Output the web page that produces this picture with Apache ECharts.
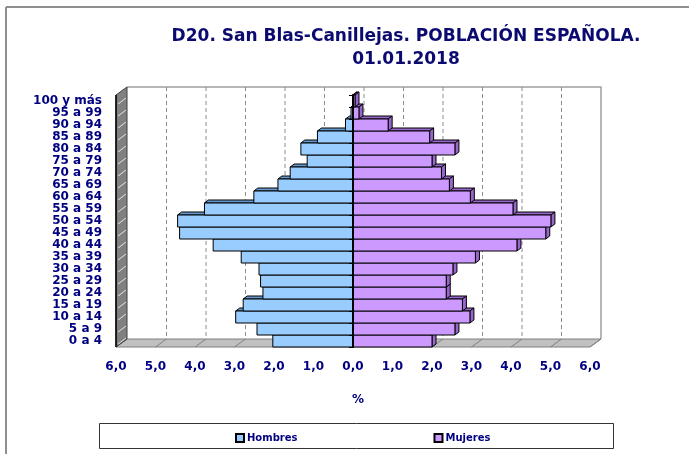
<!DOCTYPE html>
<html>
<head>
<meta charset="utf-8">
<script src="https://cdn.jsdelivr.net/npm/echarts@6/dist/echarts.min.js"></script>
<style>
  html, body { margin: 0; padding: 0; background: #fff; }
  #chart { width: 689px; height: 454px; }
</style>
</head>
<body>
<div id="chart"></div>
<script>
var categories = ['0 a 4', '5 a 9', '10 a 14', '15 a 19', '20 a 24', '25 a 29', '30 a 34',
    '35 a 39', '40 a 44', '45 a 49', '50 a 54', '55 a 59', '60 a 64', '65 a 69', '70 a 74',
    '75 a 79', '80 a 84', '85 a 89', '90 a 94', '95 a 99', '100 y más'];
var hombres = [2.03, 2.43, 2.97, 2.78, 2.28, 2.34, 2.38, 2.83, 3.54, 4.39, 4.44,
    3.76, 2.51, 1.90, 1.59, 1.16, 1.32, 0.90, 0.19, 0.05, 0.01];
var mujeres = [2.00, 2.58, 2.96, 2.77, 2.36, 2.36, 2.53, 3.10, 4.15, 4.88, 5.01,
    4.05, 2.97, 2.44, 2.24, 2.00, 2.58, 1.94, 0.89, 0.15, 0.05];
var xTicks = [-6, -5, -4, -3, -2, -1, 0, 1, 2, 3, 4, 5, 6];

var navy = '#000080';
var font = 'DejaVu Sans';
var wallDx = 11, wallDy = 8;   // depth of the 3d box
var barDx = 4, barDy = 3;      // depth of each bar

var chart = echarts.init(document.getElementById('chart'));

// walls, floor and back gridlines
function renderWalls(params, api) {
    var cs = params.coordSys;
    var x0 = cs.x, x1 = cs.x + cs.width, yt = cs.y, yb = cs.y + cs.height;
    var kids = [];
    // back wall frame
    kids.push({ type: 'polyline', shape: { points: [[x0 + wallDx, yt - wallDy], [x1 + wallDx, yt - wallDy], [x1 + wallDx, yb - wallDy]] },
        style: { stroke: '#a0a0a0', fill: null, lineWidth: 1.5 } });
    xTicks.forEach(function (t) {
        if (t === xTicks[0] || t === xTicks[xTicks.length - 1]) return;
        var x = api.coord([t, 0])[0] + wallDx;
        kids.push({ type: 'line', shape: { x1: x, y1: yt - wallDy, x2: x, y2: yb - wallDy },
            style: { stroke: '#8c8c8c', lineWidth: 1, lineDash: [4, 3] } });
    });
    // floor
    kids.push({ type: 'polygon', shape: { points: [[x0, yb], [x1, yb], [x1 + wallDx, yb - wallDy], [x0 + wallDx, yb - wallDy]] },
        style: { fill: '#c0c0c0', stroke: '#808080', lineWidth: 1 } });
    xTicks.forEach(function (t) {
        var x = api.coord([t, 0])[0];
        kids.push({ type: 'line', shape: { x1: x, y1: yb, x2: x + wallDx, y2: yb - wallDy },
            style: { stroke: '#808080', lineWidth: 1 } });
    });
    // left wall
    kids.push({ type: 'polygon', shape: { points: [[x0, yt], [x0 + wallDx, yt - wallDy], [x0 + wallDx, yb - wallDy], [x0, yb]] },
        style: { fill: '#808080', stroke: '#404040', lineWidth: 1 } });
    var band = api.size([0, 1])[1];
    for (var i = 0; i < categories.length; i++) {
        var yc = api.coord([0, i])[1] + band / 2 - 3;
        kids.push({ type: 'line', shape: { x1: x0 + 2, y1: yc, x2: x0 + wallDx - 1, y2: yc - wallDy + 2 },
            style: { stroke: '#e6e6e6', lineWidth: 1 } });
    }
    kids.push({ type: 'line', shape: { x1: x0, y1: yt, x2: x0, y2: yb }, style: { stroke: '#000', lineWidth: 1.5 } });
    return { type: 'group', children: kids };
}

function makeBarRenderer(front, dark) {
    return function (params, api) {
        var val = api.value(0), cat = api.value(1);
        var p0 = api.coord([0, cat]);
        var p1 = api.coord([val, cat]);
        var h = api.size([0, 1])[1];
        var yTop = p0[1] - h / 2, yBot = p0[1] + h / 2;
        var xa = Math.min(p0[0], p1[0]), xb = Math.max(p0[0], p1[0]);
        var kids = [];
        kids.push({ type: 'polygon', shape: { points: [[xa, yTop], [xb, yTop], [xb + barDx, yTop - barDy], [xa + barDx, yTop - barDy]] },
            style: { fill: dark, stroke: '#000', lineWidth: 1 } });
        if (val > 0) {
            kids.push({ type: 'polygon', shape: { points: [[xb, yTop], [xb + barDx, yTop - barDy], [xb + barDx, yBot - barDy], [xb, yBot]] },
                style: { fill: dark, stroke: '#000', lineWidth: 1 } });
        }
        kids.push({ type: 'rect', shape: { x: xa, y: yTop, width: xb - xa, height: yBot - yTop },
            style: { fill: front, stroke: '#000', lineWidth: 1 } });
        return { type: 'group', children: kids };
    };
}

var option = {
    backgroundColor: '#fff',
    animation: false,
    title: {
        text: 'D20. San Blas-Canillejas. POBLACIÓN ESPAÑOLA.\n01.01.2018',
        left: 401,
        top: 20,
        textAlign: 'center',
        textStyle: { fontFamily: font, fontWeight: 'bold', fontSize: 17, color: '#0a0a70', lineHeight: 23 }
    },
    graphic: [
        { type: 'line', shape: { x1: 6, y1: 7, x2: 689, y2: 7 }, style: { stroke: '#8f8f8f', lineWidth: 2 } },
        { type: 'line', shape: { x1: 6, y1: 7, x2: 6, y2: 454 }, style: { stroke: '#8f8f8f', lineWidth: 2 } },
        { type: 'rect', left: 99, top: 423, shape: { width: 514, height: 25 }, style: { fill: '#fff', stroke: '#333', lineWidth: 1 }, z: -1 }
    ],
    legend: {
        data: ['Hombres', 'Mujeres'],
        left: 230,
        top: 428,
        itemGap: 136,
        itemWidth: 8,
        itemHeight: 8,
        icon: 'rect',
        textStyle: { fontFamily: font, fontWeight: 'bold', fontSize: 10, color: navy, padding: [0, 0, 0, -2] }
    },
    grid: { left: 116, right: 99, top: 95, bottom: 107, containLabel: false },
    xAxis: {
        type: 'value',
        min: -6,
        max: 6,
        interval: 1,
        name: '%',
        nameLocation: 'middle',
        nameGap: 47,
        nameTextStyle: { fontFamily: font, fontWeight: 'bold', fontSize: 12, color: navy, padding: [0, 0, 0, 10] },
        axisLine: { onZero: false, lineStyle: { color: '#000', width: 1 } },
        axisTick: { length: 5, lineStyle: { color: '#000' } },
        splitLine: { show: false },
        axisLabel: {
            margin: 14,
            fontFamily: font, fontWeight: 'bold', fontSize: 12, color: navy,
            formatter: function (v) { return Math.abs(v).toFixed(1).replace('.', ','); }
        },
        z: 5
    },
    yAxis: [{
        type: 'category',
        data: categories,
        axisLine: { show: false, onZero: false },
        axisTick: { show: false },
        axisLabel: { interval: 0, margin: 14, fontFamily: font, fontWeight: 'bold', fontSize: 12, lineHeight: 12, color: navy }
    }, {
        type: 'category',
        data: categories,
        position: 'left',
        axisLine: { show: true, onZero: true, lineStyle: { color: '#000', width: 2 } },
        axisTick: { show: true, interval: 0, length: 4, lineStyle: { color: '#000' } },
        axisLabel: { show: false },
        z: 6
    }],
    series: [{
        name: 'walls',
        type: 'custom',
        silent: true,
        z: 1,
        renderItem: renderWalls,
        encode: { x: 0, y: 1 },
        data: [[0, 0]]
    }, {
        name: 'Hombres',
        type: 'custom',
        z: 2,
        itemStyle: { color: '#99CCFF', borderColor: '#000', borderWidth: 1 },
        renderItem: makeBarRenderer('#99CCFF', '#6699CC'),
        encode: { x: 0, y: 1 },
        data: hombres.map(function (v, i) { return [-v, i]; })
    }, {
        name: 'Mujeres',
        type: 'custom',
        z: 3,
        itemStyle: { color: '#CC99FF', borderColor: '#000', borderWidth: 1 },
        renderItem: makeBarRenderer('#CC99FF', '#9966CC'),
        encode: { x: 0, y: 1 },
        data: mujeres.map(function (v, i) { return [v, i]; })
    }]
};
chart.setOption(option);
</script>
</body>
</html>
